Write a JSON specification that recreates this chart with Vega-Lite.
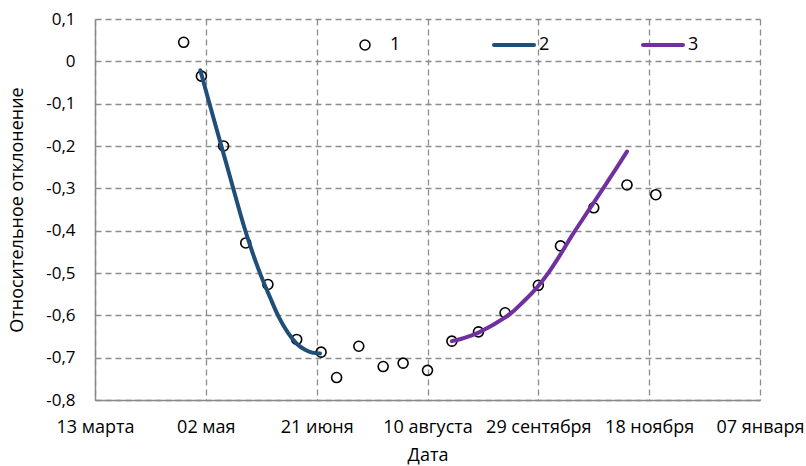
{
  "$schema": "https://vega.github.io/schema/vega-lite/v6.json",
  "width": 665,
  "height": 381,
  "autosize": {"type": "none"},
  "padding": {"left": 95, "top": 19, "right": 46, "bottom": 66},
  "background": "white",
  "config": {
    "view": {"stroke": null},
    "font": "Open Sans",
    "axis": {"labelFont": "Open Sans", "titleFont": "Open Sans", "labelColor": "#000000", "titleColor": "#000000", "titleFontWeight": "normal"}
  },
  "data": {
    "values": [
      {"date": "2020-04-22", "value": 0.045, "series": "1"},
      {"date": "2020-04-30", "value": -0.035, "series": "1"},
      {"date": "2020-05-10", "value": -0.2, "series": "1"},
      {"date": "2020-05-20", "value": -0.429, "series": "1"},
      {"date": "2020-05-30", "value": -0.527, "series": "1"},
      {"date": "2020-06-12", "value": -0.657, "series": "1"},
      {"date": "2020-06-23", "value": -0.687, "series": "1"},
      {"date": "2020-06-30", "value": -0.747, "series": "1"},
      {"date": "2020-07-10", "value": -0.673, "series": "1"},
      {"date": "2020-07-21", "value": -0.721, "series": "1"},
      {"date": "2020-07-30", "value": -0.713, "series": "1"},
      {"date": "2020-08-10", "value": -0.73, "series": "1"},
      {"date": "2020-08-21", "value": -0.661, "series": "1"},
      {"date": "2020-09-02", "value": -0.639, "series": "1"},
      {"date": "2020-09-14", "value": -0.594, "series": "1"},
      {"date": "2020-09-29", "value": -0.529, "series": "1"},
      {"date": "2020-10-09", "value": -0.436, "series": "1"},
      {"date": "2020-10-24", "value": -0.346, "series": "1"},
      {"date": "2020-11-08", "value": -0.292, "series": "1"},
      {"date": "2020-11-21", "value": -0.315, "series": "1"},

      {"date": "2020-04-29T12:00:00Z", "value": -0.021, "series": "2"},
      {"date": "2020-05-03", "value": -0.088, "series": "2"},
      {"date": "2020-05-07", "value": -0.163, "series": "2"},
      {"date": "2020-05-11", "value": -0.237, "series": "2"},
      {"date": "2020-05-15", "value": -0.312, "series": "2"},
      {"date": "2020-05-19", "value": -0.386, "series": "2"},
      {"date": "2020-05-23", "value": -0.451, "series": "2"},
      {"date": "2020-05-27", "value": -0.508, "series": "2"},
      {"date": "2020-05-31", "value": -0.558, "series": "2"},
      {"date": "2020-06-04", "value": -0.605, "series": "2"},
      {"date": "2020-06-08", "value": -0.641, "series": "2"},
      {"date": "2020-06-12", "value": -0.667, "series": "2"},
      {"date": "2020-06-16", "value": -0.682, "series": "2"},
      {"date": "2020-06-19", "value": -0.688, "series": "2"},
      {"date": "2020-06-22T12:00:00Z", "value": -0.69, "series": "2"},

      {"date": "2020-08-21", "value": -0.661, "series": "3"},
      {"date": "2020-08-25", "value": -0.656, "series": "3"},
      {"date": "2020-08-29", "value": -0.649, "series": "3"},
      {"date": "2020-09-02", "value": -0.641, "series": "3"},
      {"date": "2020-09-06", "value": -0.63, "series": "3"},
      {"date": "2020-09-10", "value": -0.618, "series": "3"},
      {"date": "2020-09-14", "value": -0.605, "series": "3"},
      {"date": "2020-09-18", "value": -0.589, "series": "3"},
      {"date": "2020-09-22", "value": -0.569, "series": "3"},
      {"date": "2020-09-26", "value": -0.548, "series": "3"},
      {"date": "2020-09-30", "value": -0.524, "series": "3"},
      {"date": "2020-10-04", "value": -0.496, "series": "3"},
      {"date": "2020-10-09", "value": -0.456, "series": "3"},
      {"date": "2020-10-14", "value": -0.413, "series": "3"},
      {"date": "2020-10-19", "value": -0.373, "series": "3"},
      {"date": "2020-10-24", "value": -0.334, "series": "3"},
      {"date": "2020-10-29", "value": -0.294, "series": "3"},
      {"date": "2020-11-03", "value": -0.254, "series": "3"},
      {"date": "2020-11-08", "value": -0.213, "series": "3"}
    ]
  },
  "encoding": {
    "x": {
      "field": "date",
      "type": "temporal",
      "title": "Дата",
      "scale": {
        "type": "utc",
        "domain": [
          {"year": 2020, "month": 3, "date": 13, "utc": true},
          {"year": 2021, "month": 1, "date": 7, "utc": true}
        ],
        "nice": false
      },
      "axis": {
        "values": [
          {"year": 2020, "month": 3, "date": 13, "utc": true},
          {"year": 2020, "month": 5, "date": 2, "utc": true},
          {"year": 2020, "month": 6, "date": 21, "utc": true},
          {"year": 2020, "month": 8, "date": 10, "utc": true},
          {"year": 2020, "month": 9, "date": 29, "utc": true},
          {"year": 2020, "month": 11, "date": 18, "utc": true},
          {"year": 2021, "month": 1, "date": 7, "utc": true}
        ],
        "labelExpr": "utcFormat(datum.value, '%d') + ' ' + ['января','февраля','марта','апреля','мая','июня','июля','августа','сентября','октября','ноября','декабря'][utcmonth(datum.value)]",
        "labelFontSize": 18,
        "labelPadding": 18,
        "labelOverlap": false,
        "labelFlush": false,
        "ticks": false,
        "domainColor": "#8a8a8a",
        "domainWidth": 1.5,
        "grid": true,
        "gridColor": "#8c8c8c",
        "gridDash": [6, 4],
        "gridWidth": 1.3,
        "titleFontSize": 18,
        "titlePadding": 10
      }
    },
    "y": {
      "field": "value",
      "type": "quantitative",
      "title": "Относительное отклонение",
      "scale": {"domain": [-0.8, 0.1], "nice": false, "zero": false},
      "axis": {
        "values": [0.1, 0, -0.1, -0.2, -0.3, -0.4, -0.5, -0.6, -0.7, -0.8],
        "labelExpr": "datum.value == 0 ? '0' : replace(replace(format(datum.value, '.1f'), '\u2212', '-'), '.', ',')",
        "labelFontSize": 17,
        "labelPadding": 20,
        "labelFlush": false,
        "labelOverlap": false,
        "ticks": false,
        "domainColor": "#8a8a8a",
        "domainWidth": 1.5,
        "grid": true,
        "gridColor": "#8c8c8c",
        "gridDash": [6, 4],
        "gridWidth": 1.3,
        "titleFontSize": 18,
        "titlePadding": 19
      }
    },
    "color": {
      "field": "series",
      "type": "nominal",
      "scale": {"domain": ["1", "2", "3"], "range": ["#000000", "#1F4E79", "#7030A0"]},
      "legend": {
        "title": null,
        "orient": "none",
        "legendX": 261,
        "legendY": 17,
        "direction": "horizontal",
        "columnPadding": 85,
        "labelFontSize": 18,
        "labelFont": "Open Sans",
        "labelColor": "#000000",
        "labelOffset": 16,
        "encode": {
          "symbols": {
            "update": {
              "shape": {"signal": "datum.value === '1' ? 'circle' : 'stroke'"},
              "size": {"signal": "datum.value === '1' ? 100 : 1600"},
              "strokeWidth": {"signal": "datum.value === '1' ? 1.5 : 4"},
              "strokeCap": {"value": "round"},
              "fill": {"value": "transparent"}
            }
          }
        }
      }
    }
  },
  "layer": [
    {
      "transform": [{"filter": "datum.series === '1'"}],
      "mark": {"type": "point", "filled": false, "size": 100, "strokeWidth": 1.6, "opacity": 1}
    },
    {
      "transform": [{"filter": "datum.series !== '1'"}],
      "mark": {"type": "line", "strokeWidth": 4, "strokeCap": "round", "interpolate": "monotone"}
    }
  ]
}
